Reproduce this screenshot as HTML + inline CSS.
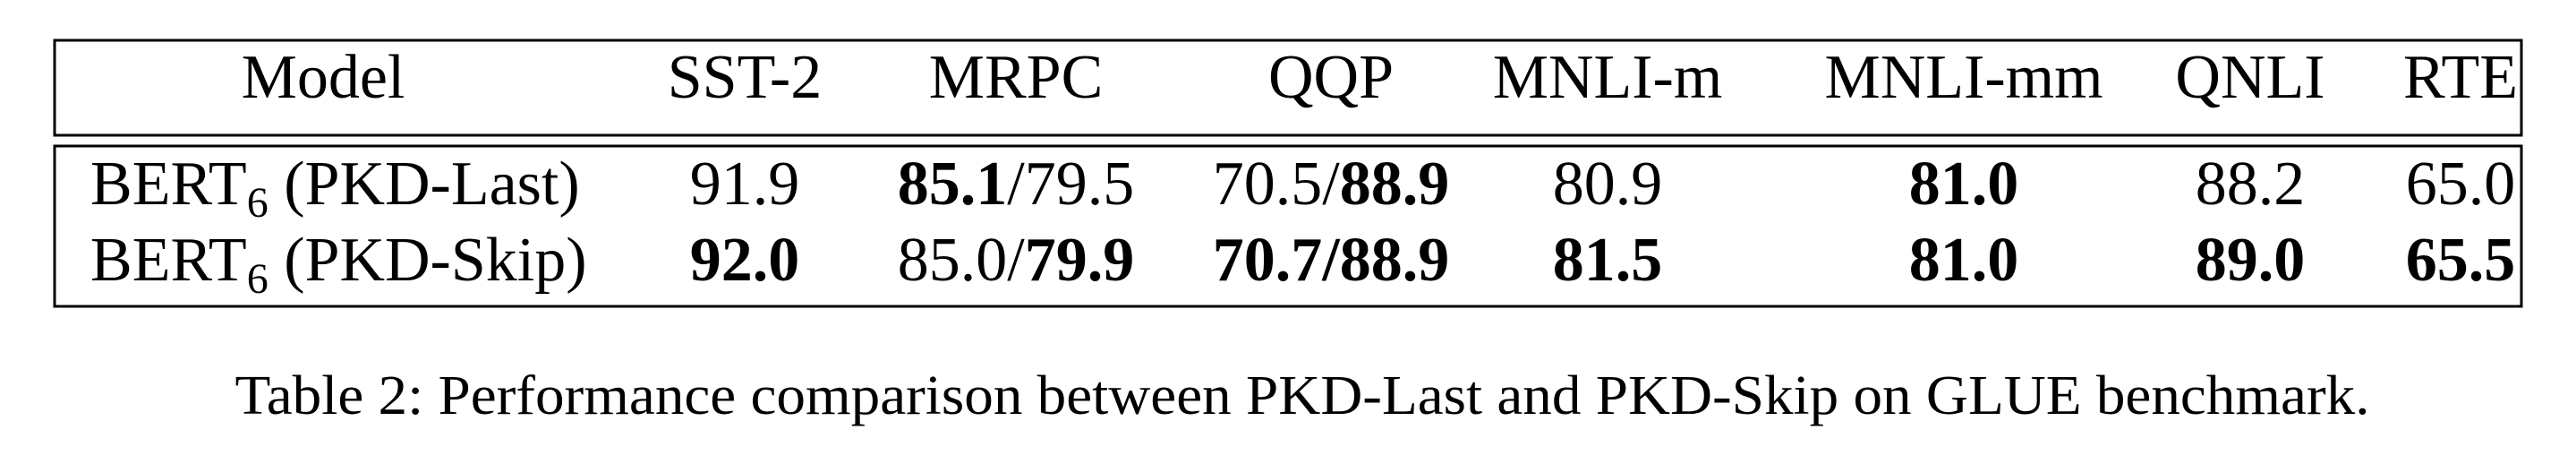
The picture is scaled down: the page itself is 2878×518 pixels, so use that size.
<!DOCTYPE html>
<html><head><meta charset="utf-8"><style>
html,body{margin:0;padding:0;background:#fff;}
svg{display:block;font-family:"Liberation Serif",serif;}
</style></head><body>
<svg id="t" width="2878" height="518" viewBox="0 0 2878 518">
<rect x="61" y="45" width="2756" height="106" fill="none" stroke="#000" stroke-width="3"/>
<rect x="61" y="163" width="2756" height="179" fill="none" stroke="#000" stroke-width="3"/>
<g id="hdr" font-size="70" text-anchor="middle"></g>
<g id="rows" font-size="70"></g>
<text x="1455" y="462" font-size="62" text-anchor="middle" textLength="2385" lengthAdjust="spacingAndGlyphs">Table 2: Performance comparison between PKD-Last and PKD-Skip on GLUE benchmark.</text>
</svg>
<script>
const headers = ["Model","SST-2","MRPC","QQP","MNLI-m","MNLI-mm","QNLI","RTE"];
const rowModels = ["(PKD-Last)","(PKD-Skip)"];
// each cell: array of [text,bold] parts
const rowLast = [[["91.9",0]],[["85.1",1],["/79.5",0]],[["70.5/",0],["88.9",1]],[["80.9",0]],[["81.0",1]],[["88.2",0]],[["65.0",0]]];
const rowSkip = [[["92.0",1]],[["85.0/",0],["79.9",1]],[["70.7/88.9",1]],[["81.5",1]],[["81.0",1]],[["89.0",1]],[["65.5",1]]];
const NS="http://www.w3.org/2000/svg";
const colX=[361,832,1135,1487,1796,2194,2514,2749];
const hdr=document.getElementById('hdr');
headers.forEach((h,i)=>{
  const t=document.createElementNS(NS,'text');
  t.setAttribute('x',colX[i]);t.setAttribute('y',109);t.textContent=h;
  
  
  hdr.appendChild(t);
});
const rows=document.getElementById('rows');
const rowY=[228,313];
[rowLast,rowSkip].forEach((row,r)=>{
  const m=document.createElementNS(NS,'text');
  m.setAttribute('x',101);m.setAttribute('y',rowY[r]);
  
  
  m.innerHTML='BERT<tspan font-size="48" dy="14">6</tspan><tspan dy="-14"> '+rowModels[r]+'</tspan>';
  rows.appendChild(m);
  row.forEach((cell,c)=>{
    const t=document.createElementNS(NS,'text');
    t.setAttribute('x',colX[c+1]);t.setAttribute('y',rowY[r]);
    t.setAttribute('text-anchor','middle');
    
    
    cell.forEach(p=>{
      const s=document.createElementNS(NS,'tspan');
      if(p[1]) s.setAttribute('font-weight','bold');
      s.textContent=p[0];t.appendChild(s);
    });
    rows.appendChild(t);
  });
});
</script>
</body></html>
